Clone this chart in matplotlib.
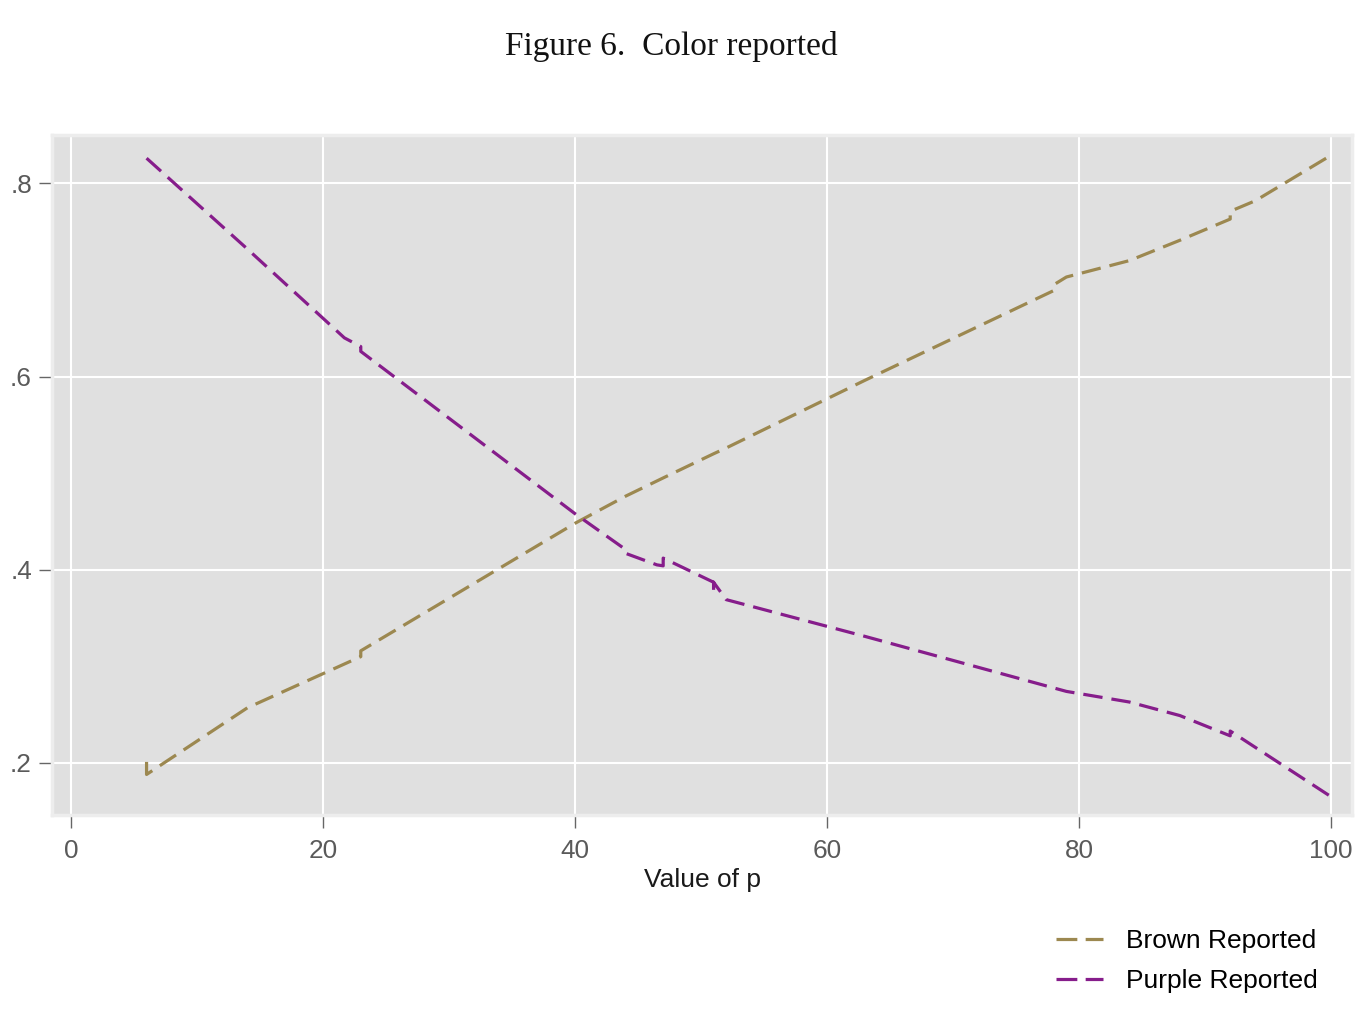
import matplotlib
matplotlib.use("Agg")
from matplotlib import pyplot as plt
from matplotlib.lines import Line2D

# values (p, share reporting the colour)
brown_p = [6, 6, 14, 23, 23, 40, 44, 47, 51, 52, 63, 78, 78, 79, 84, 88, 92, 92, 94, 100]
brown_v = [0.201, 0.188, 0.257, 0.310, 0.316, 0.448, 0.476, 0.495, 0.520, 0.526, 0.596,
           0.689, 0.695, 0.703, 0.720, 0.741, 0.763, 0.771, 0.782, 0.829]

purple_p = [6, 14, 21.7, 23, 23, 40, 44, 44, 46.5, 47, 47, 51, 51, 51, 52, 63, 79, 84, 88, 92, 92, 100]
purple_v = [0.826, 0.732, 0.640, 0.631, 0.626, 0.458, 0.421, 0.417, 0.405, 0.404, 0.412,
            0.387, 0.377, 0.387, 0.369, 0.331, 0.274, 0.263, 0.249, 0.228, 0.233, 0.165]

x_ticks = [0, 20, 40, 60, 80, 100]
y_ticks = [0.2, 0.4, 0.6, 0.8]
y_labels = ['.2', '.4', '.6', '.8']

BROWN = '#9C8850'
PURPLE = '#861D8B'

plt.rcParams['lines.scale_dashes'] = False
plt.rcParams['font.family'] = ['Liberation Sans', 'DejaVu Sans']

fig = plt.figure(figsize=(13.7, 10.16), dpi=100)
ax = fig.add_axes([0.038, 0.1978, 0.9489, 0.6693])
ax.set_facecolor('#E0E0E0')

dash = (0, (14, 6.5))
ax.plot(brown_p, brown_v, color=BROWN, lw=2.3, linestyle=dash, zorder=3)
ax.plot(purple_p, purple_v, color=PURPLE, lw=2.3, linestyle=dash, zorder=3)

ax.set_xlim(-1.5, 101.67)
ax.set_ylim(0.146, 0.850)
ax.set_xticks(x_ticks)
ax.set_yticks(y_ticks)
ax.set_yticklabels(y_labels)
ax.grid(True, color='white', lw=1.5)
ax.set_axisbelow(True)
ax.tick_params(axis='both', length=9.5, width=1.0, color='#666666',
               labelcolor='#5a5a5a', labelsize=18.8)
ax.tick_params(axis='x', pad=8)
ax.tick_params(axis='y', pad=5)
for s in ax.spines.values():
    s.set_color('#EDEDED')
    s.set_linewidth(2.5)

ax.set_xlabel('Value of p', fontsize=19, color='#1a1a1a', labelpad=3)

fig.text(0.49, 0.954, 'Figure 6.  Color reported', ha='center', va='center',
         fontsize=24, family=['Liberation Serif', 'DejaVu Serif'], color='#111111')

handles = [Line2D([], [], color=BROWN, lw=2.3, linestyle=(0, (15, 6))),
           Line2D([], [], color=PURPLE, lw=2.3, linestyle=(0, (15, 6)))]
fig.legend(handles, ['Brown Reported', 'Purple Reported'], loc='center',
           bbox_to_anchor=(0.866, 0.054), frameon=False, fontsize=19,
           handlelength=1.8, handletextpad=0.85, labelspacing=0.58)

fig.savefig('out.png', dpi=100, facecolor='white')
